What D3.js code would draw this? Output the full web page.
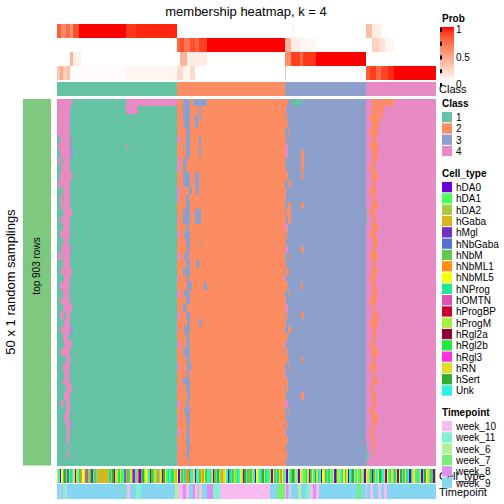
<!DOCTYPE html>
<html><head><meta charset="utf-8">
<script src="https://cdn.jsdelivr.net/npm/d3@7"></script>
<style>body{margin:0;background:#fff}svg{display:block}text{font-family:"Liberation Sans",Arial,Helvetica,sans-serif}</style>
</head><body><svg id="c" width="504" height="504"></svg>
<script>
// ---------------- DATA ----------------
const classLabels = ["1","2","3","4"];
const classColors = ["#66C2A5","#FC8D62","#8DA0CB","#E78AC3"];
const classCounts = [80,72,54,47];

// membership probability per class, run-length [value, count] over the ordered samples
const probClass1 = [[0.8,3],[0.6,3],[0.75,3],[0.55,2],[0.85,4],[1,31],[0.92,7],[0.96,27],[0,72],[0,5],[0.05,2],[0,47],[0.35,4],[0.1,6],[0,37]];
const probClass2 = [[0,80],[0.75,2],[0.85,3],[0.7,4],[0.85,3],[0.75,3],[0.9,5],[1,52],[0.4,4],[0.1,6],[0.05,11],[0,33],[0,4],[0.25,5],[0.15,4],[0.05,6],[0,28]];
const probClass3 = [[0,9],[0.4,2],[0.08,5],[0,64],[0,2],[0.4,5],[0.1,13],[0,52],[0.6,4],[0.9,6],[0.75,2],[0.92,9],[1,33],[0,47]];
const probClass4 = [[0.3,2],[0.45,2],[0.25,3],[0.35,2],[0.02,37],[0.05,34],[0.2,4],[0.05,5],[0.2,3],[0,60],[0.3,1],[0,53],[0.8,3],[0.9,4],[0.75,3],[0.88,5],[0.95,4],[1,28]];

const cellTypes = ["hDA0","hDA1","hDA2","hGaba","hMgl","hNbGaba","hNbM","hNbML1","hNbML5","hNProg","hOMTN","hProgBP","hProgM","hRgl2a","hRgl2b","hRgl3","hRN","hSert","Unk"];
const cellTypeCodes = "abcdefghijklmnopqrs";
const cellTypeColors = ["#6F00D8","#48FF58","#A8C848","#D8B818","#7030C0","#5470D0","#60C850","#FF9010","#F4FF10","#20E890","#E050B8","#C8002C","#A4F040","#900038","#20E840","#FF30E0","#E0E020","#30B030","#30F0E0"];
const cellTypeSeq = [
 "qsaigrcfbj","sqamsghiqk","rcoebgsddd","ddddsgcraq","moibsfhgjq","kescpagrbi","qslogmchsq","aribjsgoqc",
 "iaqgsjhhrs","sqasbgqhio","ssjqagsrmc","hqisaosgqb","jsiqarsgho","qsaimsgrqj","sbqaigsoqh","is",
 "qaisgrjqsa","iqsboqagis","rqjsaiqgso","qsiarmqsgi","jqasorqsib","gqsa",
 "iqsgaoqsir","jsqaibgqso","qairsgqjsa","oqisgbqasr","iqsgoaq"
].join("");

const timepoints = ["week_10","week_11","week_6","week_7","week_8","week_9"];
const timepointColors = ["#F9BBF0","#80F2D2","#B4F096","#74F074","#DE90F0","#84D6F2"];
// run-length: [timepoint index, count]
const timepointRuns = [[5,2],[0,1],[5,1],[1,2],[0,1],[5,37],[3,1],[5,2],[0,2],[5,4],[1,3],[5,23],
 [2,2],[0,3],[4,2],[0,2],[5,3],[4,1],[0,2],[3,1],[0,2],[5,3],[4,4],[1,5],[0,33],[5,5],[3,5],
 [0,1],[4,1],[5,1],[0,1],[5,5],[2,2],[5,3],[1,3],[0,2],[4,2],[0,2],[5,25],[3,3],[5,3],
 [0,1],[5,2],[0,2],[5,3],[0,2],[5,2],[0,2],[5,33]];

// class in each of 50 random samplings: deviations from consensus class "from-to:class"
const samplingDeviations = [
 "0-9:4 46-79:4 84-88:3 91-99:3 152-153:2 157-162:1 210-213:2 215-224:2",
 "0-8:4 46-53:4 84-88:3 95:3 152:2 210-213:2 215-217:2",
 "0-8:4 84-88:3 92-93:3 95:3 153:2 209-213:2 215-216:2",
 "0-8:4 85-88:3 92-93:3 152-153:2 210-214:2",
 "0-8:4 86-88:3 154:2 209-213:2",
 "2-8:4 9:3 80-81:4 86-88:3 95:3 152:2 210-212:2",
 "1-8:4 9:3 46:4 84:1 86-88:3 95:3 152-153:4 209-213:2",
 "2-8:4 9-10:3 86-88:3 95:3 152-153:4 163-164:2 211-213:2",
 "1-2:4 4-8:4 80-81:4 84-86:3 163-164:2 210-212:2",
 "3-8:4 80-81:4 84-85:3 152:2 163-164:2 209-211:2",
 "2-9:4 84-88:3 92-94:3 152-153:2 163:2 210-213:2",
 "1-8:4 84-88:3 92-94:3 154-155:2 211-212:2",
 "4-8:4 80-81:4 88-89:3 93-94:3 152:2 209-212:2",
 "2-3:4 5-8:4 80-81:4 86-87:3 152:4 210-211:2",
 "3-8:4 86-88:3 154-155:2 163-164:2 210-213:2",
 "4-9:4 84-88:3 92-95:3 153-155:2 209-211:2 206:1",
 "3-8:4 80:4 84-88:3 92-95:3 152:2 154-155:2 211-212:2 206:1",
 "4-8:4 86-87:3 152-153:4 210-213:2",
 "2-8:4 80-81:4 85-88:3 153:2 209-212:2",
 "4-7:4 86-88:3 96:3 152:2 211-213:2",
 "3-8:4 9:3 87-88:3 152-153:4 163-164:2 210-212:2",
 "1-3:4 5-8:4 80-81:4 85-87:3 154:2 209-213:2",
 "4-8:4 86-88:3 93-94:3 152:2 211-212:2",
 "3-9:4 84-88:3 153-154:2 210-213:2",
 "5-8:4 80:4 86-87:3 152:4 209-211:2",
 "2-8:4 87-89:3 98-99:3 152-153:2 163:2 210-212:2",
 "4-7:4 80-81:4 85-88:3 154:2 211-213:2",
 "3-8:4 86-88:3 152:2 209-212:2",
 "4-9:4 84-86:3 152-153:4 210-211:2",
 "2-4:4 6-8:4 80-81:4 86-88:3 153:2 163-164:2 211-213:2",
 "5-8:4 87-88:3 95-96:3 152:2 209-213:2",
 "3-8:4 9-10:3 80:4 85-88:3 154-155:2 210-212:2",
 "4-7:4 86-87:3 152-153:2 211-212:2",
 "5-9:4 80-81:4 86-88:3 152:4 209-211:2",
 "3-8:4 84-88:3 153:2 210-213:2",
 "6-8:4 86-88:3 152-153:2 163:2 211-212:2",
 "4-8:4 80-81:4 87-89:3 154:2 209-212:2",
 "5-7:4 86-87:3 152:4 210-211:2",
 "4-8:4 84-88:3 152-153:2 211-213:2",
 "6-9:4 80:4 86-88:3 153:2 209-210:2",
 "5-8:4 87-88:3 152:2 163-164:2 210-212:2",
 "3-4:4 6-8:4 80-81:4 86-87:3 152-153:4 211-212:2",
 "6-8:4 85-88:3 154:2 209-211:2",
 "5-7:4 80:4 86-88:3 152:2 210-213:2",
 "6-8:4 9:3 87-88:3 153:2 211-212:2",
 "7-8:4 80-81:4 86-87:3 152:4 209-210:2",
 "6-7:4 86-88:3 152-153:2 210-211:2",
 "8:4 80:4 87-88:3 152:2 206:1 211:2",
 "7:4 86-87:3 153:2 206-207:1 210:2",
 "80:4 88:3 152:2 206:1"
];

// ---------------- BUILD ----------------
const consensus = [];
classCounts.forEach((n,k)=>{for(let i=0;i<n;i++)consensus.push(k);});
const N = consensus.length;
const membership = samplingDeviations.map(s=>{
  const row = consensus.slice();
  s.split(" ").filter(Boolean).forEach(t=>{
    const [rng,c]=t.split(":"); const [a,b]=rng.split("-").map(Number);
    for(let j=a;j<=(isNaN(b)?a:b);j++) row[j]=+c-1;
  });
  return row;
});
const expand = rl => { const o=[]; rl.forEach(([v,n])=>{for(let i=0;i<n;i++)o.push(v);}); return o; };
const probs = [probClass1,probClass2,probClass3,probClass4].map(expand);
const ctIndex = cellTypeSeq.split("").map(ch=>cellTypeCodes.indexOf(ch));
const tpIndex = expand(timepointRuns);

// ---------------- DRAW ----------------
const svg = d3.select("#c");
const X0=57, X1=436;
const x = d3.scaleBand().domain(d3.range(N)).range([X0,X1]).paddingInner(0);
const probColor = d3.scaleLinear().domain([0,1]).range(["#FFFFFF","#FF0000"]).interpolate(d3.interpolateLab);
const classColor = d3.scaleOrdinal().domain(d3.range(4)).range(classColors);
const ctColor = d3.scaleOrdinal().domain(d3.range(cellTypes.length)).range(cellTypeColors);
const tpColor = d3.scaleOrdinal().domain(d3.range(timepoints.length)).range(timepointColors);

svg.append("text").attr("x",246).attr("y",16).attr("text-anchor","middle").attr("font-size",13).text("membership heatmap, k = 4");

function runs(arr){const out=[];let s=0;for(let j=1;j<=arr.length;j++){if(j===arr.length||arr[j]!==arr[s]){out.push({s,e:j-1,v:arr[s]});s=j;}}return out;}
function drawBar(arr,y0,h,colorFn){
  svg.append("g").attr("shape-rendering","crispEdges").selectAll("rect").data(runs(arr)).join("rect")
    .attr("x",d=>x(d.s)).attr("width",d=>x(d.e)+x.bandwidth()-x(d.s))
    .attr("y",y0).attr("height",h).attr("fill",d=>colorFn(d.v));
}

// prob rows
const yProb = d3.scaleBand().domain(d3.range(4)).range([24,80]);
probs.forEach((p,k)=>drawBar(p,yProb(k),yProb.bandwidth(),probColor));
drawBar(consensus,82,14,classColor);

// main membership heatmap
const yRow = d3.scaleBand().domain(d3.range(membership.length)).range([99,465.5]);
membership.forEach((row,r)=>drawBar(row,yRow(r),yRow.bandwidth()+0.5,classColor));
// bottom annotations
drawBar(ctIndex,469,14,ctColor);
drawBar(tpIndex,484,15,tpColor);

// left row-slice bar and titles
svg.append("rect").attr("x",23).attr("y",99).attr("width",28).attr("height",366.5).attr("fill","#7FC97F");
svg.append("text").attr("transform","translate(40,266) rotate(-90)").attr("text-anchor","middle").attr("font-size",10).text("top 903 rows");
svg.append("text").attr("transform","translate(15,282) rotate(-90)").attr("text-anchor","middle").attr("font-size",13).text("50 x 1 random samplings");

// annotation names
svg.append("text").attr("x",439).attr("y",93).attr("font-size",11).text("Class");
svg.append("text").attr("x",439).attr("y",480).attr("font-size",11).text("Cell_type");
svg.append("text").attr("x",439).attr("y",496).attr("font-size",11).text("Timepoint");

// Prob legend
const defs = svg.append("defs");
const grad = defs.append("linearGradient").attr("id","pg").attr("x1",0).attr("x2",0).attr("y1",0).attr("y2",1);
d3.range(0,1.01,0.1).forEach(t=>grad.append("stop").attr("offset",t).attr("stop-color",probColor(1-t)));
svg.append("text").attr("x",442).attr("y",22).attr("font-size",10).attr("font-weight","bold").text("Prob");
const yLeg = d3.scaleLinear().domain([1,0]).range([29,84]);
svg.append("rect").attr("x",440).attr("y",27).attr("width",14).attr("height",55).attr("fill","url(#pg)");
[1,0.75,0.5,0.25,0].forEach(v=>svg.append("rect").attr("x",440).attr("y",yLeg(v)-1).attr("width",2).attr("height",4).attr("fill","#000"));
[[1,"1"],[0.5,"0.5"],[0,"0"]].forEach(([v,l])=>svg.append("text").attr("x",456).attr("y",yLeg(v)+4).attr("font-size",10).text(l));

function legend(title,labels,colors,yTitle){
  svg.append("text").attr("x",442).attr("y",yTitle).attr("font-size",10).attr("font-weight","bold").text(title);
  labels.forEach((l,i)=>{
    const cy = yTitle+10+i*11.3;
    svg.append("rect").attr("x",442).attr("y",cy-5).attr("width",10).attr("height",10.3).attr("fill",colors[i]);
    svg.append("text").attr("x",456).attr("y",cy+4).attr("font-size",10).text(l);
  });
}
legend("Class",classLabels,classColors,107);
legend("Cell_type",cellTypes,cellTypeColors,177);
legend("Timepoint",timepoints,timepointColors,416);
</script></body></html>
